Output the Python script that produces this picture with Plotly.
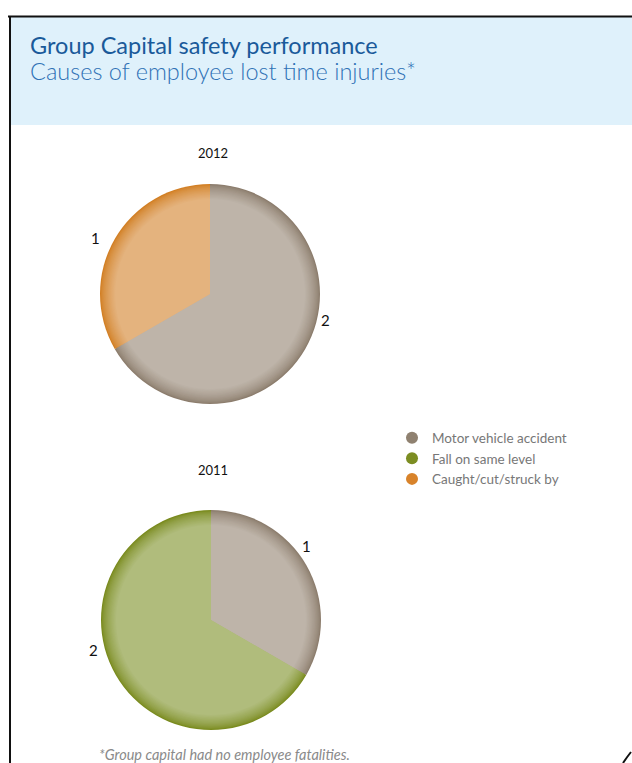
import plotly.graph_objects as go

W, H = 632, 763

# ---- data ----
categories = ["Motor vehicle accident", "Fall on same level", "Caught/cut/struck by"]
years = ["2012", "2011"]
values_2012 = [2, 0, 1]
values_2011 = [1, 2, 0]

dark_colors = ["#8C7D6D", "#7A8B1F", "#D27F24"]
light_colors = ["#BEB4A9", "#B0BC7C", "#E4B37E"]
legend_colors = ["#8F8170", "#7C8D22", "#D8832A"]

def px_x(x):
    return x / W

def px_y(y):
    return 1 - y / H

def mix(c1, c2, t):
    a = [int(c1[i:i + 2], 16) for i in (1, 3, 5)]
    b = [int(c2[i:i + 2], 16) for i in (1, 3, 5)]
    return "#%02x%02x%02x" % tuple(round(a[i] + (b[i] - a[i]) * t) for i in range(3))

fig = go.Figure()

pies = [
    (values_2012, 210, 294, 110),
    (values_2011, 211, 620, 110),
]

n_layers = 14
ring = 15
for vals, cx, cy, r in pies:
    for k in range(n_layers):
        t = k / (n_layers - 1)
        rr = r - ring * t
        colors = [mix(dark_colors[i], light_colors[i], t ** 0.7) for i in range(3)]
        fig.add_trace(go.Pie(
            labels=categories, values=vals, sort=False, direction="clockwise",
            rotation=0, marker=dict(colors=colors, line=dict(width=0)),
            textinfo="none", hoverinfo="label+value", showlegend=False,
            domain=dict(x=[px_x(cx - rr), px_x(cx + rr)], y=[px_y(cy + rr), px_y(cy - rr)]),
        ))

# legend via dummy scatter traces
for i, c in enumerate(categories):
    fig.add_trace(go.Scatter(x=[None], y=[None], mode="markers", name=c,
                             marker=dict(symbol="circle", size=10, color=legend_colors[i])))

annotations = []
# year titles
annotations.append(dict(x=px_x(213), y=px_y(153), text=years[0], showarrow=False,
                        xanchor="center", yanchor="middle",
                        font=dict(family="Lato", size=13, color="#111"), xref="paper", yref="paper"))
annotations.append(dict(x=px_x(213), y=px_y(470), text=years[1], showarrow=False,
                        xanchor="center", yanchor="middle",
                        font=dict(family="Lato", size=13, color="#111"), xref="paper", yref="paper"))
# value labels
lab_pos = [
    (values_2012[2], 95, 238),
    (values_2012[0], 325, 320),
    (values_2011[0], 306, 546),
    (values_2011[1], 93, 650),
]
for v, x, y in lab_pos:
    annotations.append(dict(x=px_x(x), y=px_y(y), text=str(v), showarrow=False,
                            xanchor="center", yanchor="middle",
                            font=dict(family="Lato", size=15, color="#111"),
                            xref="paper", yref="paper"))
# header titles
annotations.append(dict(x=px_x(28), y=px_y(45), text="Group Capital safety performance",
                        showarrow=False, xanchor="left", yanchor="middle",
                        font=dict(family="Lato", size=23.5, color="#1A5A9A"),
                        xref="paper", yref="paper"))
annotations.append(dict(x=px_x(28), y=px_y(71), text="Causes of employee lost time injuries*",
                        showarrow=False, xanchor="left", yanchor="middle",
                        font=dict(family="Lato Light, Lato", size=23.5, color="#2F72B6"),
                        xref="paper", yref="paper"))
annotations.append(dict(x=px_x(97), y=px_y(754), text="<i>*Group capital had no employee fatalities.</i>",
                        showarrow=False, xanchor="left", yanchor="middle",
                        font=dict(family="Lato", size=14.5, color="#8A8A8A"),
                        xref="paper", yref="paper"))

shapes = [
    dict(type="rect", xref="paper", yref="paper", x0=px_x(11), x1=1.0, y0=px_y(125), y1=px_y(17),
         fillcolor="#DFF1FB", line=dict(width=0), layer="below"),
    dict(type="line", xref="paper", yref="paper", x0=px_x(8), x1=1.0, y0=px_y(16.5), y1=px_y(16.5),
         line=dict(color="#111", width=2)),
    dict(type="line", xref="paper", yref="paper", x0=px_x(10), x1=px_x(10), y0=0, y1=px_y(16),
         line=dict(color="#111", width=2)),
    dict(type="path", xref="paper", yref="paper",
         path="M %f,%f Q %f,%f %f,%f" % (px_x(623), px_y(763), px_x(627), px_y(757), px_x(631), px_y(752)),
         line=dict(color="#111", width=2)),
]

fig.update_layout(
    width=W, height=H, margin=dict(l=0, r=0, t=0, b=0),
    paper_bgcolor="white", plot_bgcolor="rgba(0,0,0,0)",
    xaxis=dict(visible=False, domain=[0.9, 0.95]), yaxis=dict(visible=False, domain=[0.9, 0.95]),
    showlegend=True,
    legend=dict(x=px_x(392), y=px_y(422.5), xanchor="left", yanchor="top",
                font=dict(family="Lato", size=13.5, color="#777"), bgcolor="rgba(0,0,0,0)",
                itemsizing="constant", tracegroupgap=0),
    annotations=annotations, shapes=shapes,
)

fig.write_html("out.html")
